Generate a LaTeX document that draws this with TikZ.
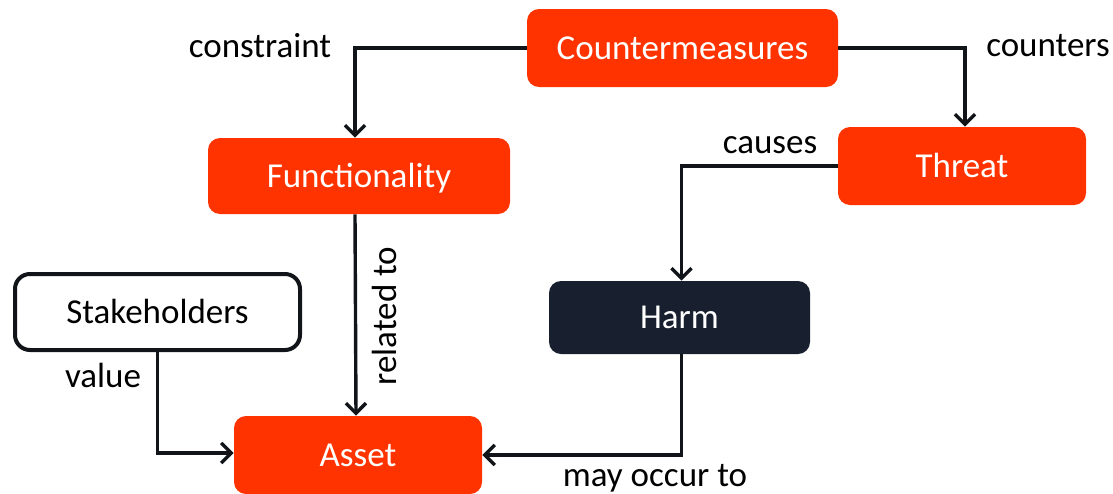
\documentclass[tikz,border=0pt]{standalone}
\usepackage{fontspec}
\setmainfont{Carlito}
\usetikzlibrary{arrows.meta}
\definecolor{orng}{HTML}{FF3300}
\definecolor{navy}{HTML}{18202F}
\definecolor{ink}{HTML}{111418}
\begin{document}
\begin{tikzpicture}[x=0.5pt,y=-0.5pt,
  box/.style={rounded corners=6pt, inner sep=0pt, font=\fontsize{17.5}{20}\selectfont, text=white, text height=11pt, text depth=0pt},
  redbox/.style={box, fill=orng},
  darkbox/.style={box, fill=navy},
  whitebox/.style={box, fill=white, draw=ink, line width=2pt, text=black, rounded corners=7.5pt},
  lbl/.style={font=\fontsize{17.5}{20}\selectfont, text=black, inner sep=0pt},
  conn/.style={draw=ink, line width=1.7pt, -{Straight Barb[length=5pt,width=10pt,line width=1.7pt]}}]
\useasboundingbox (0,0) rectangle (1113,493);
\node[redbox, minimum width=155.5pt, minimum height=39pt] (cm) at (682.5,48) {Countermeasures};
\node[redbox, minimum width=151pt, minimum height=38pt] (func) at (359,176) {Functionality};
\node[redbox, minimum width=124pt, minimum height=39pt] (threat) at (962,166) {Threat};
\node[whitebox, minimum width=142.5pt, minimum height=38pt] (stake) at (157.5,312) {Stakeholders};
\node[darkbox, minimum width=130.5pt, minimum height=36.5pt] (harm) at (679.5,317.5) {Harm};
\node[redbox, minimum width=124pt, minimum height=39pt] (asset) at (358,455) {Asset};
\draw[conn] (cm.west) -| ([xshift=-2pt]func.north);
\draw[conn] (cm.east) -| ([xshift=1.5pt]threat.north);
\draw[conn] (threat.west) -| ([xshift=1pt]harm.north);
\draw[conn] ([xshift=-2pt]func.south) -- ([xshift=-1pt]asset.north);
\draw[conn] (stake.south) |- ([yshift=1pt]asset.west);
\draw[conn] ([xshift=1pt]harm.south) |- (asset.east);
\node[lbl] (lconstraint) at (260,46) {constraint};
\node[lbl] (lcounters) at (1048,46) {counters};
\node[lbl] (lcauses) at (770,145) {causes};
\node[lbl, rotate=90] (lrelated) at (384,316) {related to};
\node[lbl] (lvalue) at (103,375) {value};
\node[lbl] (lmay) at (655,478) {may occur to};
\end{tikzpicture}
\end{document}
